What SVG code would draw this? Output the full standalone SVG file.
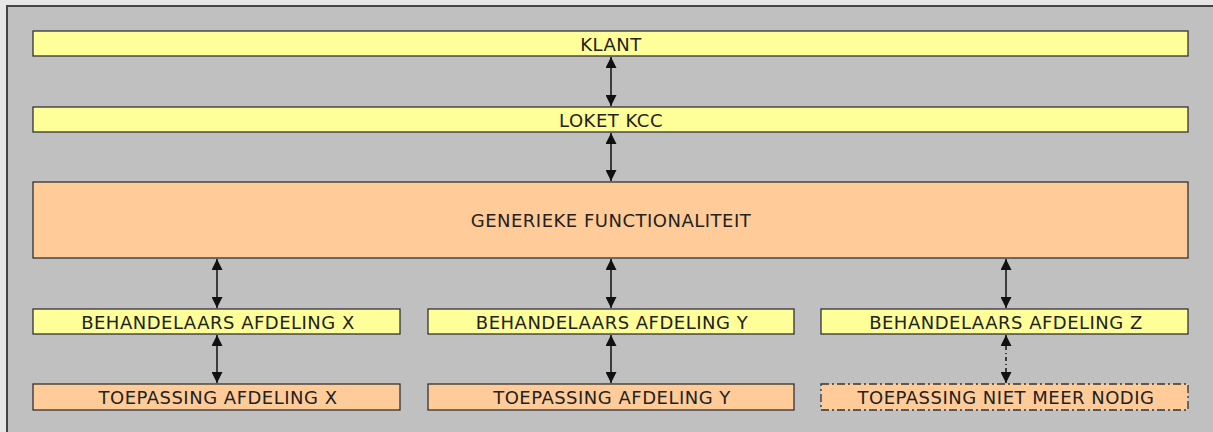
<svg xmlns="http://www.w3.org/2000/svg" width="1213" height="432" viewBox="0 0 1213 432">
<style>
.y{fill:#ffff99;stroke:#333;stroke-width:1.3}
.o{fill:#ffcc99;stroke:#333;stroke-width:1.3}
.d{fill:#ffcc99;stroke:#333;stroke-width:1.3;stroke-dasharray:8,3,2,3}
text{font-family:"DejaVu Sans",Verdana,sans-serif;font-size:18px;letter-spacing:0.5px;fill:#222;text-anchor:middle;dominant-baseline:central}
.c{stroke:#111;stroke-width:1.5;fill:none}
.cd{stroke:#111;stroke-width:1.5;fill:none;stroke-dasharray:4,3,1,3}
</style>
<defs>
<marker id="ah" viewBox="0 0 10 10" refX="10" refY="5" markerWidth="11" markerHeight="11" markerUnits="userSpaceOnUse" orient="auto-start-reverse">
<path d="M0,0 L10,5 L0,10 z" fill="#111"/>
</marker>
</defs>
<rect x="0" y="0" width="1213" height="432" fill="#e6e6e6"/>
<rect x="7" y="6" width="1220" height="440" fill="#c0c0c0" stroke="#444" stroke-width="2"/>
<g id="connectors">
<line class="c" x1="611" y1="57" x2="611" y2="106" marker-start="url(#ah)" marker-end="url(#ah)"/>
<line class="c" x1="611" y1="133" x2="611" y2="181" marker-start="url(#ah)" marker-end="url(#ah)"/>
<line class="c" x1="217" y1="259" x2="217" y2="308" marker-start="url(#ah)" marker-end="url(#ah)"/>
<line class="c" x1="611" y1="259" x2="611" y2="308" marker-start="url(#ah)" marker-end="url(#ah)"/>
<line class="c" x1="1006" y1="259" x2="1006" y2="308" marker-start="url(#ah)" marker-end="url(#ah)"/>
<line class="c" x1="217" y1="335" x2="217" y2="383" marker-start="url(#ah)" marker-end="url(#ah)"/>
<line class="c" x1="611" y1="335" x2="611" y2="383" marker-start="url(#ah)" marker-end="url(#ah)"/>
<line class="cd" x1="1006" y1="335" x2="1006" y2="383" marker-start="url(#ah)" marker-end="url(#ah)"/>
</g>
<g id="klant"><rect class="y" x="33" y="31" width="1155" height="25"/><text x="611" y="44">KLANT</text></g>
<g id="loket"><rect class="y" x="33" y="107" width="1155" height="25"/><text x="611" y="120">LOKET KCC</text></g>
<g id="generiek"><rect class="o" x="33" y="182" width="1155" height="76"/><text x="611" y="220">GENERIEKE FUNCTIONALITEIT</text></g>
<g id="behX"><rect class="y" x="33" y="309" width="367" height="25"/><text x="218" y="322">BEHANDELAARS AFDELING X</text></g>
<g id="behY"><rect class="y" x="428" y="309" width="366" height="25"/><text x="612" y="322">BEHANDELAARS AFDELING Y</text></g>
<g id="behZ"><rect class="y" x="821" y="309" width="367" height="25"/><text x="1006" y="322">BEHANDELAARS AFDELING Z</text></g>
<g id="toeX"><rect class="o" x="33" y="384" width="367" height="26"/><text x="218" y="397">TOEPASSING AFDELING X</text></g>
<g id="toeY"><rect class="o" x="428" y="384" width="366" height="26"/><text x="612" y="397">TOEPASSING AFDELING Y</text></g>
<g id="toeZ"><rect class="d" x="821" y="384" width="367" height="26"/><text x="1006" y="397">TOEPASSING NIET MEER NODIG</text></g>
</svg>
